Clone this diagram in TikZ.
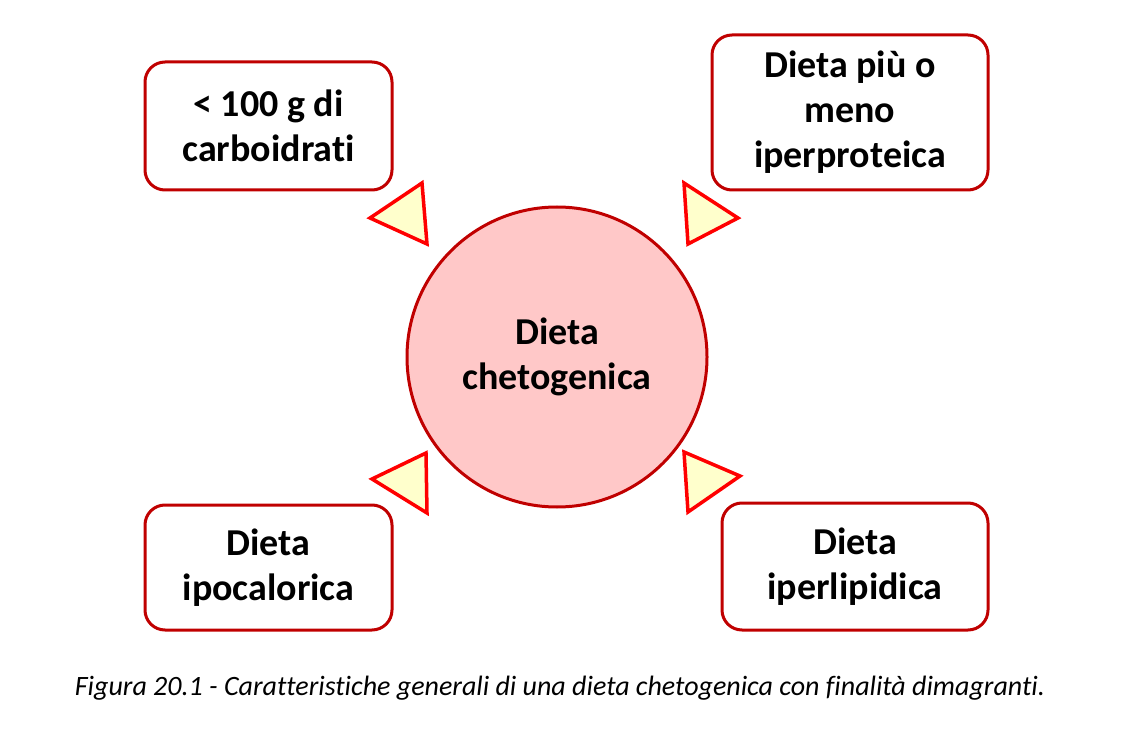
\documentclass[tikz,border=0pt]{standalone}
\usepackage{fontspec}
\setmainfont{Carlito}[Ligatures=NoCommon]
\begin{document}
\begin{tikzpicture}[x=1pt,y=-1pt,
  box/.style={draw=boxred,line width=3pt,rounded corners=20pt,fill=white,align=center,font=\bfseries\fontsize{38}{45}\selectfont,inner sep=0pt},
  tri/.style={draw=red,fill=triyel,line width=3.5pt,line join=miter}]
\definecolor{boxred}{HTML}{C00000}
\definecolor{triyel}{HTML}{FFFFCC}
\definecolor{circfill}{HTML}{FFC8C8}
\useasboundingbox (0,0) rectangle (1122,746);
\node[box,minimum width=247pt,minimum height=128pt] (tl) at (268.5,126) {< 100 g di\\carboidrati};
\node[box,minimum width=276pt,minimum height=155pt] (tr) at (850,112.5) {Dieta più o\\meno\\iperproteica};
\node[box,minimum width=247pt,minimum height=125pt] (bl) at (268.5,567.5) {Dieta\\ipocalorica};
\node[box,minimum width=266pt,minimum height=127pt] (br) at (855,566.5) {Dieta\\iperlipidica};
\node[circle,draw=boxred,fill=circfill,line width=3pt,minimum size=300pt,align=center,font=\bfseries\fontsize{38}{45}\selectfont] (c) at (557,357) {Dieta\\chetogenica};
\draw[tri] (370,218) -- (422,183) -- (427,244) -- cycle;
\draw[tri] (684,183) -- (738,218) -- (688,244) -- cycle;
\draw[tri] (372,479) -- (426,453) -- (427,513) -- cycle;
\draw[tri] (684,452) -- (740,476) -- (688,512) -- cycle;
\node[font=\itshape\fontsize{28}{32}\selectfont] (cap) at (560,688) {Figura 20.1 - Caratteristiche generali di una dieta chetogenica con finalità dimagranti.};
\end{tikzpicture}
\end{document}
